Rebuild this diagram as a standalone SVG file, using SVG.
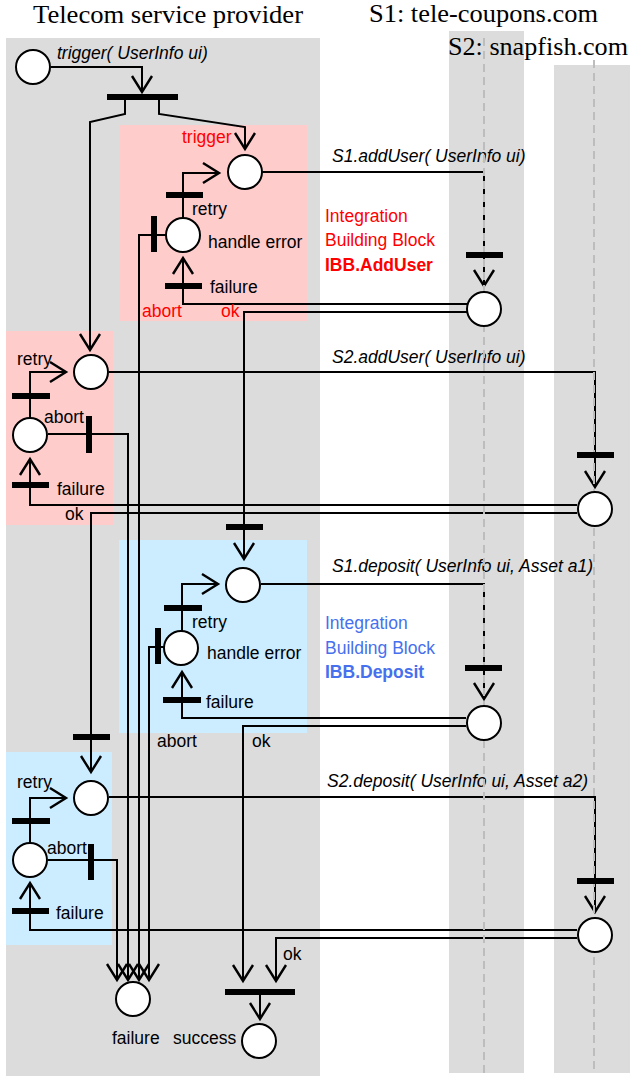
<svg xmlns="http://www.w3.org/2000/svg" width="630" height="1076" viewBox="0 0 630 1076">
<style>
.lane{fill:#dcdcdc}
.ibbr{fill:#ffcccc}
.ibbb{fill:#ccecff}
.c{fill:none;stroke:#000;stroke-width:2}
.p{fill:#fff;stroke:#000;stroke-width:2}
.bar{fill:#000}
.life{stroke:#bdbdbd;stroke-width:2;stroke-dasharray:8 5;fill:none}
.t{font-family:"Liberation Sans",Arial,sans-serif;font-size:17.5px;fill:#000}
.i{font-style:italic}
.red{fill:#ff0000}
.blue{fill:#4670ee}
.b{font-weight:bold}
.title{font-family:"Liberation Serif","Times New Roman",serif;font-size:25px;fill:#000}
</style>
<defs>
<marker id="arr" markerUnits="userSpaceOnUse" markerWidth="30" markerHeight="30" viewBox="-20 -15 30 30" refX="0" refY="0" orient="auto">
<path d="M-16,-10 L0,0 L-16,10" fill="none" stroke="#000" stroke-width="2.4"/>
</marker>
</defs>
<!-- lanes -->
<g id="lanes">
<rect class="lane" x="6" y="38" width="314" height="1038"/>
<rect class="lane" x="449" y="31" width="75" height="1042"/>
<rect class="lane" x="554" y="65" width="76" height="1008"/>
<text class="title" x="168" y="23" text-anchor="middle" textLength="270" lengthAdjust="spacingAndGlyphs">Telecom service provider</text>
<text class="title" x="369" y="22" textLength="229" lengthAdjust="spacingAndGlyphs">S1: tele-coupons.com</text>
<text class="title" x="448" y="55" textLength="180" lengthAdjust="spacingAndGlyphs">S2: snapfish.com</text>
</g>
<!-- IBB areas -->
<g id="ibb-adduser">
<rect class="ibbr" x="120" y="125" width="187" height="196"/>
<rect class="ibbr" x="6" y="331" width="107" height="194"/>
<text class="t red" x="325" y="222">Integration</text>
<text class="t red" x="325" y="246">Building Block</text>
<text class="t red b" x="325" y="271">IBB.AddUser</text>
</g>
<g id="ibb-deposit">
<rect class="ibbb" x="119" y="540" width="188" height="193"/>
<rect class="ibbb" x="6" y="752" width="106" height="193"/>
<text class="t blue" x="325" y="629">Integration</text>
<text class="t blue" x="325" y="654">Building Block</text>
<text class="t blue b" x="325" y="678">IBB.Deposit</text>
</g>
<!-- connectors -->
<g id="connectors" class="c">
<path marker-end="url(#arr)" d="M51,67 H142 V92"/>
<path marker-end="url(#arr)" d="M125,100 V114 L90,122 V350"/>
<path marker-end="url(#arr)" d="M159,100 V114 L245,127 V149"/>
<path marker-end="url(#arr)" d="M183,218 V173 H219"/>
<path marker-end="url(#arr)" d="M166,235 H139 V980"/>
<path marker-end="url(#arr)" d="M467,304 H183 V258"/>
<path marker-end="url(#arr)" d="M467,312 H244 V559"/>
<path marker-end="url(#arr)" d="M262,172 H484 V286"/>
<path marker-end="url(#arr)" d="M109,372 H595 V487"/>
<path marker-end="url(#arr)" d="M30,418 V372 H66"/>
<path marker-end="url(#arr)" d="M48,434 H128 V980"/>
<path marker-end="url(#arr)" d="M577,505 H30 V459"/>
<path marker-end="url(#arr)" d="M577,513 H91 V772"/>
<path marker-end="url(#arr)" d="M261,584 H484 V699"/>
<path marker-end="url(#arr)" d="M182,631 V584 H218"/>
<path marker-end="url(#arr)" d="M164,647 H149 V980"/>
<path marker-end="url(#arr)" d="M466,718 H182 V672"/>
<path marker-end="url(#arr)" d="M466,726 H243 V981"/>
<path marker-end="url(#arr)" d="M109,797 H595 V912"/>
<path marker-end="url(#arr)" d="M30,843 V798 H66"/>
<path marker-end="url(#arr)" d="M48,860 H117 V980"/>
<path marker-end="url(#arr)" d="M577,930 H30 V883"/>
<path marker-end="url(#arr)" d="M577,938 H276 V981"/>
<path marker-end="url(#arr)" d="M260,995 V1019"/>
</g>
<!-- connector labels -->
<g id="labels">
<text class="t i" x="57" y="59">trigger( UserInfo ui)</text>
<text class="t i" x="332" y="162">S1.addUser( UserInfo ui)</text>
<text class="t i" x="332" y="363">S2.addUser( UserInfo ui)</text>
<text class="t i" x="332" y="572">S1.deposit( UserInfo ui, Asset a1)</text>
<text class="t i" x="327" y="787">S2.deposit( UserInfo ui, Asset a2)</text>
<text class="t red" x="182" y="143">trigger</text>
<text class="t" x="192" y="215">retry</text>
<text class="t" x="210" y="293">failure</text>
<text class="t red" x="142" y="317">abort</text>
<text class="t red" x="221" y="317">ok</text>
<text class="t" x="17" y="365">retry</text>
<text class="t" x="44" y="423">abort</text>
<text class="t" x="57" y="495">failure</text>
<text class="t" x="65" y="520">ok</text>
<text class="t" x="192" y="628">retry</text>
<text class="t" x="206" y="708">failure</text>
<text class="t" x="157" y="747">abort</text>
<text class="t" x="252" y="747">ok</text>
<text class="t" x="17" y="788">retry</text>
<text class="t" x="47" y="854">abort</text>
<text class="t" x="56" y="919">failure</text>
<text class="t" x="283" y="960">ok</text>
</g>
<!-- lifelines -->
<g id="lifelines">
<line class="life" x1="484" y1="38" x2="484" y2="1073"/>
<line class="life" x1="594" y1="60" x2="594" y2="1073"/>
</g>
<!-- transitions -->
<g id="t-fork"><rect class="bar" x="107" y="94" width="71" height="6"/></g>
<g id="t-ibb1-retry"><rect class="bar" x="166" y="192" width="37" height="6"/></g>
<g id="t-ibb1-abort"><rect class="bar" x="151" y="216" width="6" height="36"/></g>
<g id="t-ibb1-failure"><rect class="bar" x="165" y="283" width="37" height="6"/></g>
<g id="t-s1-adduser"><rect class="bar" x="466" y="252" width="37" height="6"/></g>
<g id="t-s2-adduser"><rect class="bar" x="577" y="452" width="37" height="6"/></g>
<g id="t-ibb2-retry"><rect class="bar" x="12" y="393" width="38" height="6"/></g>
<g id="t-ibb2-abort"><rect class="bar" x="86" y="416" width="6" height="37"/></g>
<g id="t-ibb2-failure"><rect class="bar" x="12" y="482" width="37" height="6"/></g>
<g id="t-dep1-trigger"><rect class="bar" x="226" y="524" width="37" height="6"/></g>
<g id="t-dep1-retry"><rect class="bar" x="164" y="605" width="38" height="6"/></g>
<g id="t-dep1-abort"><rect class="bar" x="155" y="628" width="6" height="36"/></g>
<g id="t-dep1-failure"><rect class="bar" x="163" y="697" width="38" height="6"/></g>
<g id="t-s1-deposit"><rect class="bar" x="465" y="665" width="37" height="6"/></g>
<g id="t-dep2-trigger"><rect class="bar" x="73" y="734" width="37" height="6"/></g>
<g id="t-dep2-retry"><rect class="bar" x="12" y="818" width="38" height="6"/></g>
<g id="t-dep2-abort"><rect class="bar" x="88" y="844" width="6" height="36"/></g>
<g id="t-dep2-failure"><rect class="bar" x="12" y="908" width="37" height="6"/></g>
<g id="t-s2-deposit"><rect class="bar" x="577" y="878" width="37" height="6"/></g>
<g id="t-success"><rect class="bar" x="225" y="989" width="70" height="6"/></g>
<!-- places -->
<g id="p-start"><circle class="p" cx="33" cy="67" r="17"/></g>
<g id="p-ibb1-trigger"><circle class="p" cx="245" cy="172" r="17"/></g>
<g id="p-ibb1-handle"><circle class="p" cx="183" cy="235" r="17"/><text class="t" x="208" y="248">handle error</text></g>
<g id="p-s1-adduser"><circle class="p" cx="484" cy="309" r="17"/></g>
<g id="p-ibb2-trigger"><circle class="p" cx="91" cy="372" r="17"/></g>
<g id="p-ibb2-handle"><circle class="p" cx="30" cy="435" r="17"/></g>
<g id="p-s2-adduser"><circle class="p" cx="595" cy="509" r="17"/></g>
<g id="p-dep1-trigger"><circle class="p" cx="243" cy="585" r="17"/></g>
<g id="p-dep1-handle"><circle class="p" cx="181" cy="648" r="17"/><text class="t" x="207" y="659">handle error</text></g>
<g id="p-s1-deposit"><circle class="p" cx="484" cy="723" r="17"/></g>
<g id="p-dep2-trigger"><circle class="p" cx="91" cy="798" r="17"/></g>
<g id="p-dep2-handle"><circle class="p" cx="30" cy="860" r="17"/></g>
<g id="p-s2-deposit"><circle class="p" cx="595" cy="935" r="17"/></g>
<g id="p-failure"><circle class="p" cx="133" cy="999" r="17"/><text class="t" x="112" y="1044">failure</text></g>
<g id="p-success"><circle class="p" cx="259" cy="1041" r="17"/><text class="t" x="173" y="1044">success</text></g>
</svg>
